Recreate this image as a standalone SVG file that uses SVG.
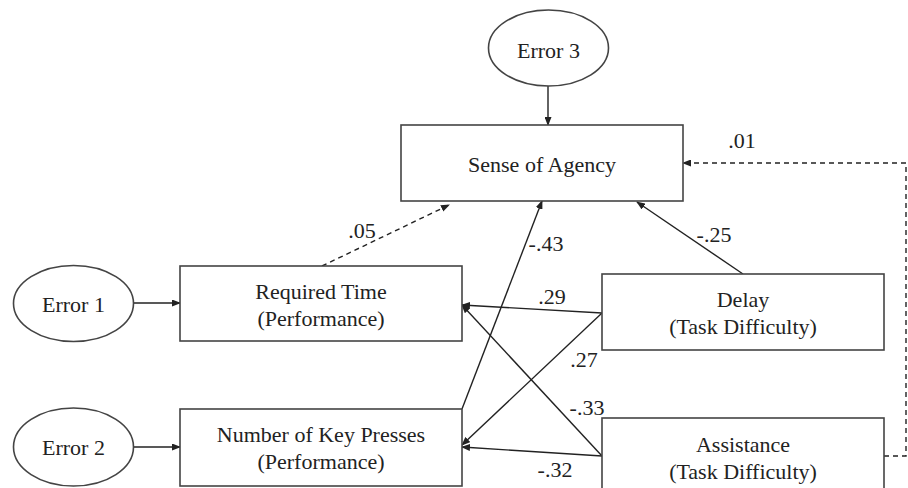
<svg xmlns="http://www.w3.org/2000/svg" width="908" height="488" viewBox="0 0 908 488">
<defs>
<marker id="ah" markerUnits="userSpaceOnUse" markerWidth="9" markerHeight="7" refX="8" refY="3.5" orient="auto">
<path d="M0,0 L9,3.5 L0,7 z" fill="#222"/>
</marker>
<style>
.box{fill:#fff;stroke:#444;stroke-width:1.6}
.t{font-family:"Liberation Serif","Times New Roman",serif;font-size:22px;fill:#222;text-anchor:middle}
.c{fill:none;stroke:#222;stroke-width:1.4}
.d{stroke-dasharray:5,4}
.a{marker-end:url(#ah)}
</style>
</defs>
<rect width="908" height="488" fill="#fff"/>
<g id="connectors">
<line class="c a" x1="548" y1="86" x2="548" y2="125"/>
<line class="c a" x1="133" y1="303" x2="180" y2="303"/>
<line class="c a" x1="133" y1="447" x2="180" y2="447"/>
<line class="c d a" x1="322" y1="266" x2="449" y2="205"/>
<line class="c a" x1="462" y1="409" x2="542" y2="201"/>
<line class="c a" x1="743" y1="274" x2="637" y2="202"/>
<polyline class="c d a" points="884,456 906,456 906,163 683,163"/>
<line class="c a" x1="602" y1="313" x2="462" y2="305"/>
<line class="c a" x1="602" y1="313" x2="462" y2="445"/>
<line class="c a" x1="602" y1="456" x2="462" y2="305"/>
<line class="c a" x1="602" y1="456" x2="462" y2="447"/>
</g>
<g id="labels">
<text class="t" x="362" y="238">.05</text>
<text class="t" x="546" y="251">-.43</text>
<text class="t" x="714" y="242">-.25</text>
<text class="t" x="742" y="148">.01</text>
<text class="t" x="552" y="304">.29</text>
<text class="t" x="584" y="367">.27</text>
<text class="t" x="587" y="415">-.33</text>
<text class="t" x="555" y="477">-.32</text>
</g>
<g id="error3">
<ellipse class="box" cx="548.5" cy="48" rx="60" ry="38"/>
<text class="t" x="548.5" y="58">Error 3</text>
</g>
<g id="sense-of-agency">
<rect class="box" x="401" y="125" width="282" height="76"/>
<text class="t" x="542" y="172">Sense of Agency</text>
</g>
<g id="error1">
<ellipse class="box" cx="73.5" cy="303.5" rx="60" ry="38"/>
<text class="t" x="73.5" y="312">Error 1</text>
</g>
<g id="error2">
<ellipse class="box" cx="73.5" cy="447" rx="60" ry="39"/>
<text class="t" x="73.5" y="455">Error 2</text>
</g>
<g id="required-time">
<rect class="box" x="180" y="266" width="282" height="75"/>
<text class="t" x="321" y="299">Required Time</text>
<text class="t" x="321" y="326">(Performance)</text>
</g>
<g id="key-presses">
<rect class="box" x="180" y="409" width="282" height="77"/>
<text class="t" x="321" y="442">Number of Key Presses</text>
<text class="t" x="321" y="469">(Performance)</text>
</g>
<g id="delay">
<rect class="box" x="602" y="274" width="282" height="76"/>
<text class="t" x="743" y="307">Delay</text>
<text class="t" x="743" y="334">(Task Difficulty)</text>
</g>
<g id="assistance">
<rect class="box" x="602" y="418" width="282" height="76"/>
<text class="t" x="743" y="452">Assistance</text>
<text class="t" x="743" y="479">(Task Difficulty)</text>
</g>
</svg>
